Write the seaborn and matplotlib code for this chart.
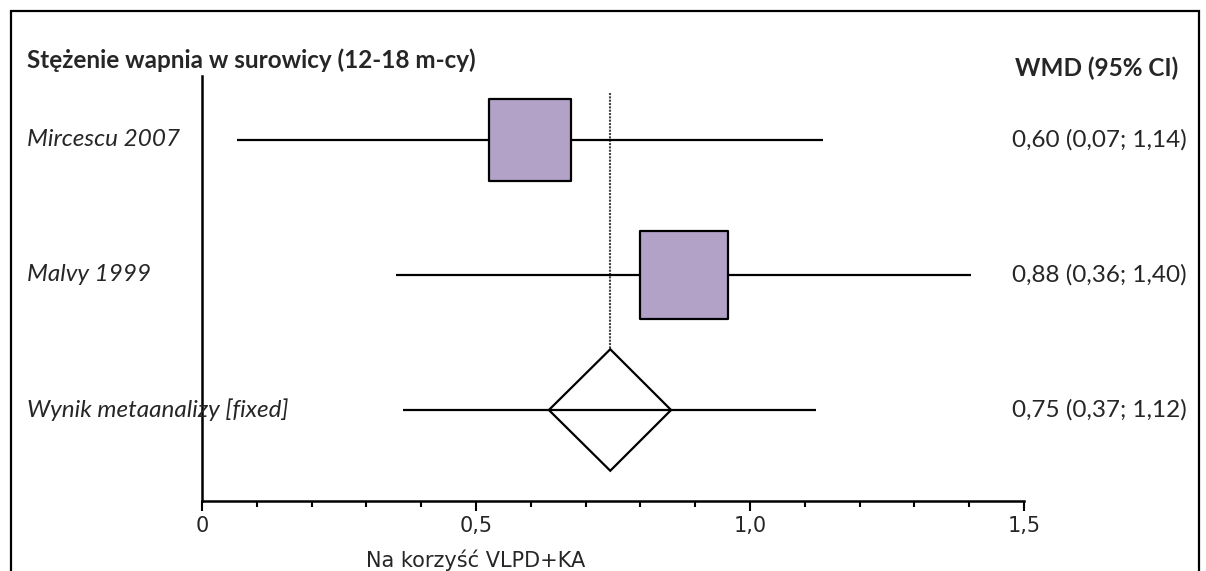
import matplotlib
matplotlib.use("Agg")
import matplotlib.pyplot as plt
import matplotlib.transforms as mtransforms
from matplotlib.patches import Rectangle
import pandas as pd
import seaborn as sns

# study rows (values as drawn in the picture)
studies = ["Mircescu 2007", "Malvy 1999"]
study_est = [0.598, 0.879]
study_lo = [0.063, 0.354]
study_hi = [1.133, 1.403]
study_weight = [48, 52]
study_text = ["0,60 (0,07; 1,14)", "0,88 (0,36; 1,40)"]

pooled_label = "Wynik metaanalizy [fixed]"
pooled_est = 0.745
pooled_lo_diamond = 0.633
pooled_hi_diamond = 0.856
pooled_lo = 0.367
pooled_hi = 1.120
pooled_text = "0,75 (0,37; 1,12)"

xticks = [0, 0.5, 1.0, 1.5]
xticklabels = ["0", "0,5", "1,0", "1,5"]

W, H = 1206, 571
sns.set_style("white")
plt.rcParams["font.family"] = ["Lato", "DejaVu Sans"]

fig = plt.figure(figsize=(W / 100, H / 100), dpi=100)
ax = fig.add_axes([202 / W, 1 - 501 / H, (1024 - 202) / W, (501 - 76) / H])

df = pd.DataFrame({"study": studies, "est": study_est, "lo": study_lo,
                   "hi": study_hi, "weight": study_weight,
                   "row": range(len(studies))})
pooled_row = len(studies)

# confidence intervals
ax.hlines(df["row"], df["lo"], df["hi"], color="black", lw=1.6, zorder=2)
ax.hlines(pooled_row, pooled_lo, pooled_hi, color="black", lw=1.6, zorder=4)

# study squares
sns.scatterplot(data=df, x="est", y="row", size="weight", sizes=(3481, 4020),
                marker="s", color="#B2A2C7", edgecolor="black", linewidth=1.6,
                legend=False, ax=ax, zorder=3)

# pooled diamond
dh = 0.45
ax.fill([pooled_lo_diamond, pooled_est, pooled_hi_diamond, pooled_est],
        [pooled_row, pooled_row - dh, pooled_row, pooled_row + dh],
        facecolor="white", edgecolor="black", lw=1.6, zorder=3)

# line of pooled estimate
ax.vlines(pooled_est, -0.35, pooled_row - dh, color="#444444", lw=1.5,
          linestyles=(0, (1, 0.6)), zorder=1)

ax.set_xlim(0, 1.5)
ax.set_ylim(2.674, -0.474)
ax.set_ylabel("")
ax.set_yticks([])
ax.set_xticks(xticks)
ax.set_xticklabels(xticklabels, fontfamily="DejaVu Sans", fontsize=15)
ax.set_xticks([i / 10 for i in range(16) if i % 5], minor=True)
ax.tick_params(axis="x", which="major", direction="out", length=7.5,
               width=1.5, color="black", pad=3, bottom=True)
ax.tick_params(axis="x", which="minor", direction="out", length=4,
               width=1.5, color="black", bottom=True)
for side in ["top", "right"]:
    ax.spines[side].set_visible(False)
for side in ["left", "bottom"]:
    ax.spines[side].set_color("black")
    ax.spines[side].set_linewidth(1.8)
ax.set_xlabel("Na korzyść VLPD+KA", fontfamily="DejaVu Sans", fontsize=15)
ax.xaxis.set_label_coords(0.333, -0.115)
ax.patch.set_alpha(0)

# labels left and values right
trans = mtransforms.blended_transform_factory(fig.transFigure, ax.transData)
for i, (name, txt) in enumerate(zip(studies, study_text)):
    ax.text(27 / W, i, name, transform=trans, ha="left", va="center",
            fontsize=17.5, style="italic")
    ax.text(1187 / W, i, txt, transform=trans, ha="right", va="center",
            fontsize=17.5)
ax.text(27 / W, pooled_row, pooled_label, transform=trans, ha="left",
        va="center", fontsize=17.5, style="italic")
ax.text(1187 / W, pooled_row, pooled_text, transform=trans, ha="right",
        va="center", fontsize=17.5)

fig.text(27 / W, 1 - 60 / H, "Stężenie wapnia w surowicy (12-18 m-cy)",
         ha="left", va="center", fontsize=17.5, fontweight="bold")
fig.text(1178 / W, 1 - 68 / H, "WMD (95% CI)", ha="right", va="center",
         fontsize=17.5, fontweight="bold")

# frame around the whole picture
fig.patches.append(Rectangle((11 / W, -0.05), (1199 - 11) / W,
                             1 - 11 / H + 0.05, transform=fig.transFigure,
                             fill=False, edgecolor="black", lw=1.6,
                             clip_on=False))

fig.savefig("out.png", dpi=100)
